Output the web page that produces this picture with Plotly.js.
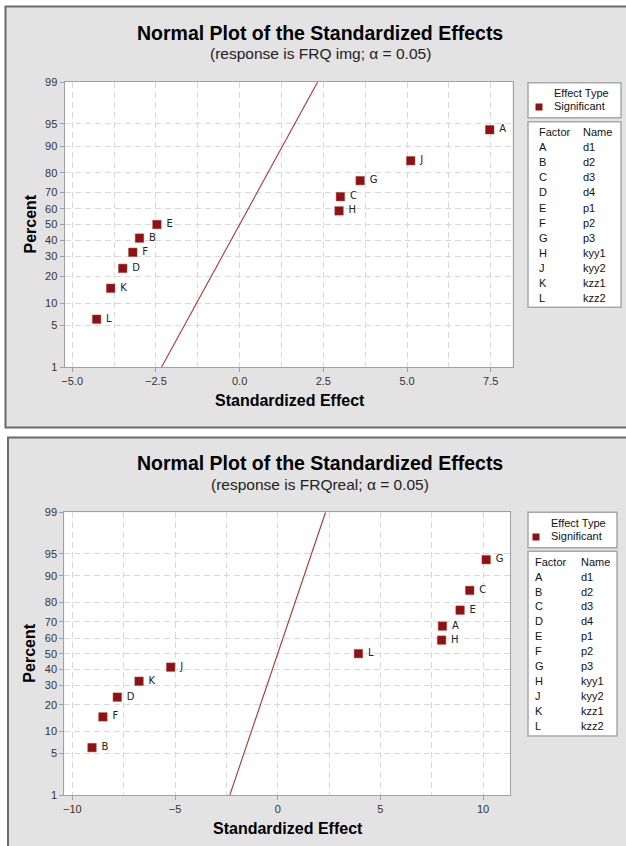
<!DOCTYPE html>
<html>
<head>
<meta charset="utf-8">
<script src="https://cdn.plot.ly/plotly-3.0.1.min.js"></script>
<style>
  html, body { margin: 0; padding: 0; background: #ffffff; }
  #chart { width: 626px; height: 846px; }
</style>
</head>
<body>
<div id="chart"></div>
<script>
// Factor codes and their names (shared by both runs)
const factors = ['A', 'B', 'C', 'D', 'E', 'F', 'G', 'H', 'J', 'K', 'L'];
const factorNames = ['d1', 'd2', 'd3', 'd4', 'p1', 'p2', 'p3', 'kyy1', 'kyy2', 'kzz1', 'kzz2'];

// Response FRQ img: standardized effect and normal-plot percent per factor
const imgEffect  = [7.47, -2.99, 3.01, -3.49, -2.47, -3.19, 3.60, 2.97, 5.11, -3.85, -4.27];
const imgPercent = [93.9, 41.2, 67.5, 23.7, 50.0, 32.5, 76.3, 58.8, 85.1, 14.9, 6.1];

// Response FRQreal: standardized effect and normal-plot percent per factor
const realEffect  = [8.02, -9.04, 9.35, -7.81, 8.88, -8.51, 10.15, 7.98, -5.21, -6.75, 3.93];
const realPercent = [67.5, 6.1, 85.1, 23.7, 76.3, 14.9, 93.9, 58.8, 41.2, 32.5, 50.0];

// Reference line endpoints (effect, percent)
const refEffect  = [-2.33, 2.33];
const refPercent = [1, 99];

// Percent tick labels on the normal-probability axis
const percentTicks = [1, 5, 10, 20, 30, 40, 50, 60, 70, 80, 90, 95, 99];

// Inverse standard normal CDF (Acklam's rational approximation)
function probit(p) {
  const a = [-3.969683028665376e+01, 2.209460984245205e+02, -2.759285104469687e+02,
             1.383577518672690e+02, -3.066479806614716e+01, 2.506628277459239e+00];
  const b = [-5.447609879822406e+01, 1.615858368580409e+02, -1.556989798598866e+02,
             6.680131188771972e+01, -1.328068155288572e+01];
  const c = [-7.784894002430293e-03, -3.223964580411365e-01, -2.400758277161838e+00,
             -2.549732539343734e+00, 4.374664141464968e+00, 2.938163982698783e+00];
  const d = [7.784695709041462e-03, 3.224671290700398e-01, 2.445134137142996e+00,
             3.754408661907416e+00];
  const pl = 0.02425, ph = 1 - pl;
  let q, r;
  if (p < pl) {
    q = Math.sqrt(-2 * Math.log(p));
    return (((((c[0]*q+c[1])*q+c[2])*q+c[3])*q+c[4])*q+c[5]) /
           ((((d[0]*q+d[1])*q+d[2])*q+d[3])*q+1);
  }
  if (p <= ph) {
    q = p - 0.5; r = q * q;
    return (((((a[0]*r+a[1])*r+a[2])*r+a[3])*r+a[4])*r+a[5])*q /
           (((((b[0]*r+b[1])*r+b[2])*r+b[3])*r+b[4])*r+1);
  }
  q = Math.sqrt(-2 * Math.log(1 - p));
  return -(((((c[0]*q+c[1])*q+c[2])*q+c[3])*q+c[4])*q+c[5]) /
          ((((d[0]*q+d[1])*q+d[2])*q+d[3])*q+1);
}
const toZ = pcts => pcts.map(v => probit(v / 100));

const W = 626, H = 846;
const X = px => px / W;
const Y = py => 1 - py / H;

const FONT = 'Liberation Sans, Arial, sans-serif';
const RED = '#8e1212';
const LINE_RED = '#b03434';
const GRID = '#d9d9d9';

// Panel geometry (pixels)
const panels = [
  { box: [5.5, 6.5, 660, 427.5], plot: [64.5, 82, 512.5, 367], xr: [-5.23, 8.15],
    xdt: 2.5, xfmt: '.1f', title: 33, sub: 53, subText: '(response is FRQ img; α = 0.05)',
    et: [528, 82.7, 621, 117.7], ft: [528, 121.7, 621, 307.3],
    etText: [552, 93.3], sig: [552, 106, 539], fac: [536.5, 581, 132.3, 15.04],
    eff: imgEffect, pct: imgPercent },
  { box: [8, 437.5, 660, 880], plot: [64.3, 512.3, 510, 795], xr: [-10.39, 11.31],
    xdt: 5, xfmt: 'd', title: 463, sub: 484, subText: '(response is FRQreal; α = 0.05)',
    et: [528, 512.3, 617, 547.7], ft: [528, 551.3, 617, 736],
    etText: [549.3, 522.7], sig: [549.3, 536, 536], fac: [532.7, 578.7, 561.7, 14.93],
    eff: realEffect, pct: realPercent }
];

const traces = [];
const shapes = [];
const annotations = [];
const layout = {
  width: W, height: H,
  margin: { l: 0, r: 0, t: 0, b: 0 },
  paper_bgcolor: '#ffffff',
  plot_bgcolor: '#ffffff',
  showlegend: false,
  font: { family: FONT, size: 11, color: '#333333' },
  shapes: shapes,
  annotations: annotations
};

const zTicks = percentTicks.map(v => probit(v / 100));
const zRange = [probit(0.01), probit(0.99)];

panels.forEach((P, i) => {
  const xa = i === 0 ? 'x' : 'x2';
  const ya = i === 0 ? 'y' : 'y2';
  const xKey = i === 0 ? 'xaxis' : 'xaxis2';
  const yKey = i === 0 ? 'yaxis' : 'yaxis2';

  // grey panel frame
  shapes.push({ type: 'rect', xref: 'paper', yref: 'paper', layer: 'below',
    x0: X(P.box[0]), x1: X(P.box[2]), y0: Y(P.box[1]), y1: Y(P.box[3]),
    fillcolor: '#e3e3e3', line: { color: '#6a6a6a', width: 2 } });
  // white data area
  shapes.push({ type: 'rect', xref: 'paper', yref: 'paper', layer: 'below',
    x0: X(P.plot[0]), x1: X(P.plot[2]), y0: Y(P.plot[3]), y1: Y(P.plot[1]),
    fillcolor: '#ffffff', line: { width: 0 } });

  layout[xKey] = {
    domain: [X(P.plot[0]), X(P.plot[2])],
    range: P.xr, anchor: ya,
    dtick: P.xdt, tick0: 0, tickformat: P.xfmt,
    showgrid: true, gridcolor: GRID, griddash: '6px,4px', gridwidth: 1,
    minor: { dtick: P.xdt / 2, tick0: 0, showgrid: true, gridcolor: GRID,
             griddash: '6px,4px', gridwidth: 1, ticks: '' },
    zeroline: false,
    showline: true, mirror: true, linecolor: '#a0a0a0', linewidth: 1,
    ticks: 'outside', ticklen: 4, tickcolor: '#a0a0a0',
    tickfont: { family: FONT, size: 11, color: '#333333' }
  };
  layout[yKey] = {
    domain: [Y(P.plot[3]), Y(P.plot[1])],
    range: zRange, anchor: xa,
    tickmode: 'array', tickvals: zTicks, ticktext: percentTicks.map(String),
    showgrid: true, gridcolor: GRID, griddash: '6px,4px', gridwidth: 1,
    zeroline: false,
    showline: true, mirror: true, linecolor: '#a0a0a0', linewidth: 1,
    ticks: 'outside', ticklen: 4, tickcolor: '#a0a0a0',
    tickfont: { family: FONT, size: 11, color: '#333333' }
  };

  // reference line
  traces.push({ type: 'scatter', mode: 'lines', xaxis: xa, yaxis: ya,
    x: refEffect, y: toZ(refPercent), cliponaxis: true,
    line: { color: LINE_RED, width: 1.1 }, hoverinfo: 'skip' });

  // significant effects, labelled with their factor code
  traces.push({ type: 'scatter', mode: 'markers+text', xaxis: xa, yaxis: ya,
    x: P.eff, y: toZ(P.pct), text: factors.map(f => ' ' + f), textposition: 'middle right',
    textfont: { family: 'DejaVu Sans, sans-serif', size: 10, color: '#222222' },
    marker: { symbol: 'square', size: 8.5, color: RED, line: { color: '#a84040', width: 0.5 } },
    cliponaxis: false });

  // titles
  annotations.push({ xref: 'paper', yref: 'paper', x: X(320), y: Y(P.title),
    xanchor: 'center', yanchor: 'middle', showarrow: false,
    text: '<b>Normal Plot of the Standardized Effects</b>',
    font: { family: FONT, size: 19.5, color: '#000000' } });
  annotations.push({ xref: 'paper', yref: 'paper', x: X(320), y: Y(P.sub),
    xanchor: 'center', yanchor: 'middle', showarrow: false, text: P.subText,
    font: { family: FONT, size: 15.5, color: '#222222' } });

  // axis titles
  const midX = (P.plot[0] + P.plot[2]) / 2;
  const midY = (P.plot[1] + P.plot[3]) / 2;
  annotations.push({ xref: 'paper', yref: 'paper', x: X(midX + 1), y: Y(P.plot[3] + 33),
    xanchor: 'center', yanchor: 'middle', showarrow: false,
    text: '<b>Standardized Effect</b>', font: { family: FONT, size: 16, color: '#000000' } });
  annotations.push({ xref: 'paper', yref: 'paper', x: X(30), y: Y(midY),
    xanchor: 'center', yanchor: 'middle', showarrow: false, textangle: -90,
    text: '<b>Percent</b>', font: { family: FONT, size: 16, color: '#000000' } });

  // effect type box
  shapes.push({ type: 'rect', xref: 'paper', yref: 'paper',
    x0: X(P.et[0]), x1: X(P.et[2]), y0: Y(P.et[1]), y1: Y(P.et[3]),
    fillcolor: '#ffffff', line: { color: '#a8a8a8', width: 1.5 } });
  annotations.push({ xref: 'paper', yref: 'paper', x: X(P.etText[0]), y: Y(P.etText[1]),
    xanchor: 'left', yanchor: 'middle', showarrow: false, text: 'Effect Type',
    font: { family: FONT, size: 11, color: '#111111' } });
  annotations.push({ xref: 'paper', yref: 'paper', x: X(P.sig[0]), y: Y(P.sig[1]),
    xanchor: 'left', yanchor: 'middle', showarrow: false, text: 'Significant',
    font: { family: FONT, size: 11, color: '#111111' } });
  shapes.push({ type: 'rect', xref: 'paper', yref: 'paper',
    x0: X(P.sig[2] - 3.5), x1: X(P.sig[2] + 3.5), y0: Y(P.sig[1] - 2.5), y1: Y(P.sig[1] + 4.5),
    fillcolor: RED, line: { width: 0 } });

  // factor / name table
  shapes.push({ type: 'rect', xref: 'paper', yref: 'paper',
    x0: X(P.ft[0]), x1: X(P.ft[2]), y0: Y(P.ft[1]), y1: Y(P.ft[3]),
    fillcolor: '#ffffff', line: { color: '#a8a8a8', width: 1.5 } });
  const rowsL = ['Factor'].concat(factors);
  const rowsR = ['Name'].concat(factorNames);
  rowsL.forEach((t, k) => {
    const yy = P.fac[2] + k * P.fac[3];
    annotations.push({ xref: 'paper', yref: 'paper', x: X(P.fac[0]), y: Y(yy),
      xanchor: 'left', yanchor: 'middle', showarrow: false, text: t,
      font: { family: FONT, size: 11, color: '#111111' } });
    annotations.push({ xref: 'paper', yref: 'paper', x: X(P.fac[1]), y: Y(yy),
      xanchor: 'left', yanchor: 'middle', showarrow: false, text: rowsR[k],
      font: { family: FONT, size: 11, color: '#111111' } });
  });
});

Plotly.newPlot('chart', traces, layout, { displayModeBar: false, staticPlot: true });
</script>
</body>
</html>
